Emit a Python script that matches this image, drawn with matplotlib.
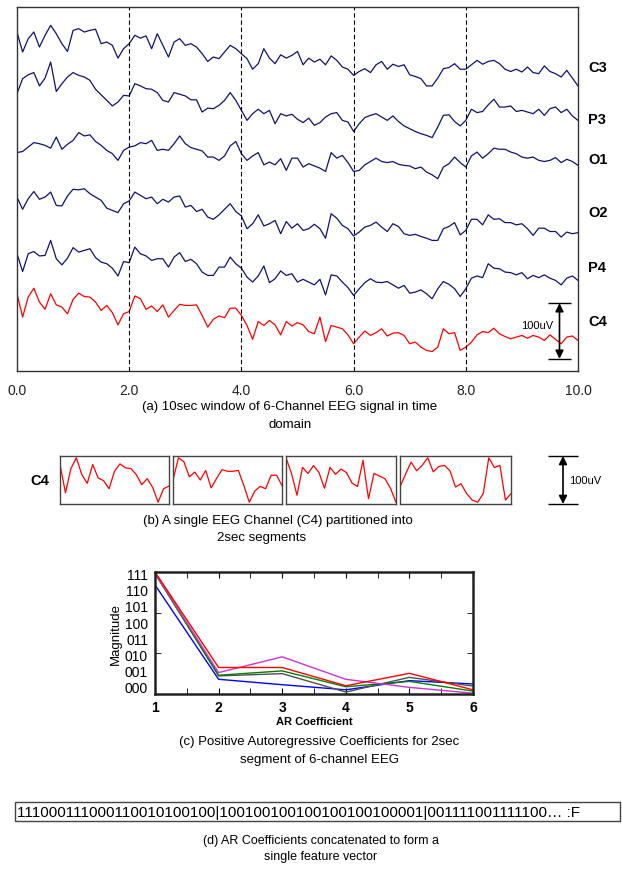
import numpy as np
import matplotlib.pyplot as plt
from matplotlib.patches import Rectangle

plt.rcParams['font.family'] = ['Liberation Sans', 'DejaVu Sans']

# 6-channel EEG, 10 s window sampled every 0.1 s, values in uV
t = np.linspace(0.0, 10.0, 101)
c3 = [42, 6, 30, 42, 15, 36, 54, 39, 21, 7,
      45, 48, 42, 45, 47, 21, 24, 18, -5, 12,
      21, 36, 31, 35, 12, 39, 18, -3, 24, 30,
      18, 21, 15, 3, -11, -3, -6, 6, 18, 12,
      3, -6, -25, -15, 12, -5, -15, 1, -5, 0,
      7, -17, -5, -12, -7, -17, -1, -9, -21, -25,
      -36, -29, -24, -31, -17, -11, -25, -16, -20, -17,
      -35, -38, -42, -55, -55, -41, -24, -22, -15, -25,
      -25, -17, -9, -16, -11, -9, -15, -25, -29, -25,
      -30, -21, -31, -33, -19, -29, -33, -39, -27, -41,
      -55]
p3 = [21, 48, 55, 59, 35, 49, 78, 25, 39, 51,
      59, 54, 51, 45, 29, 19, 9, -1, 6, 18,
      17, 39, 35, 30, 29, 23, 9, 6, 23, 20,
      17, 10, 10, -12, -5, -6, 0, 9, 23, 9,
      -9, -27, -15, -7, -15, -9, -33, -15, -19, -16,
      -25, -31, -23, -36, -31, -21, -15, -13, -27, -30,
      -47, -33, -22, -18, -15, -21, -27, -19, -29, -37,
      -42, -47, -51, -54, -58, -39, -18, -17, -29, -37,
      -27, -7, -13, -11, 1, 11, -3, -3, -1, -11,
      -9, -12, -15, -7, -18, -6, -3, -13, -7, -19,
      -27]
o1 = [5, 7, 15, 23, 21, 18, 13, 33, 11, 20,
      27, 41, 35, 37, 25, 18, 9, 3, -9, 9,
      15, 17, 23, 21, 27, 9, 11, 9, 21, 35,
      21, 14, 11, 8, -3, -3, -9, -1, 17, 25,
      3, -9, -1, 5, -17, -12, -17, -6, -27, -5,
      -5, -21, -15, -19, -23, -29, 5, -5, 0, -13,
      -29, -27, -17, -11, -5, -11, -13, -11, -16, -18,
      -19, -24, -21, -30, -35, -42, -21, -15, -3, -13,
      -21, -1, 6, -5, 3, 13, 11, 11, 6, 3,
      -3, -5, -3, -9, -11, -9, -4, -13, -7, -11,
      -18]
o2 = [39, 17, 36, 49, 35, 39, 48, 24, 23, 41,
      53, 52, 54, 45, 39, 33, 19, 15, 11, 27,
      32, 48, 42, 36, 39, 27, 35, 30, 39, 41,
      21, 24, 13, 17, 3, -1, 7, 17, 27, 13,
      5, -18, -9, 7, -13, -9, -3, -27, -5, -17,
      -9, -21, -18, -10, -18, -35, 9, 1, -12, -18,
      -31, -24, -15, -12, -6, -15, -23, -9, -14, -27,
      -30, -28, -32, -35, -39, -39, -18, -14, -7, -29,
      -21, -1, -1, -11, 7, -1, 0, -7, -7, -11,
      -9, -18, -30, -17, -17, -23, -23, -33, -24, -27,
      -25]
p4 = [33, 1, 33, 37, 29, 30, 57, 24, 13, 25,
      44, 36, 39, 42, 26, 18, 15, 7, -7, 19,
      17, 45, 33, 29, 21, 24, 24, 9, 27, 35,
      19, 23, 15, 0, -6, -6, 9, 9, 27, 15,
      7, -9, -18, -7, 11, -19, -12, 2, -6, -3,
      -18, -13, -18, -23, -13, -41, -5, -7, -18, -28,
      -42, -30, -19, -12, -18, -19, -17, -23, -29, -24,
      -38, -36, -32, -39, -48, -30, -17, -22, -30, -44,
      -30, -11, -7, -10, 15, 7, 6, 0, -1, -5,
      -1, -12, -6, -10, -5, -11, -15, -23, -11, -7,
      -15]
c4 = [51, 9, 45, 61, 36, 23, 51, 31, 27, 15,
      41, 52, 46, 45, 36, 21, 30, 17, -5, 15,
      19, 47, 42, 23, 29, 19, 31, 9, 21, 32,
      30, 30, 31, 12, -9, 5, 11, 8, 25, 25,
      12, -6, -31, 1, -6, 3, -5, -23, 1, -7,
      -1, -5, -17, -21, 9, -35, -6, -9, -12, -23,
      -39, -27, -16, -24, -19, -12, -25, -20, -19, -24,
      -39, -36, -45, -51, -53, -45, -12, -21, -19, -51,
      -45, -36, -23, -17, -19, -11, -21, -26, -30, -27,
      -24, -29, -24, -27, -33, -23, -31, -39, -27, -25,
      -33]

channels = ['C3', 'P3', 'O1', 'O2', 'P4', 'C4']
signals = [c3, p3, o1, o2, p4, c4]
offsets = [568, 478, 388, 274, 178, 88]
colors = ['#12126e'] * 5 + ['#ff0000']

# AR coefficient magnitudes for one 2 s segment, one line per channel
ar_index = [1, 2, 3, 4, 5, 6]
ar_blue = [6.3, 0.46, 0.125, -0.19, 0.375, 0.17]
ar_gray = [7.06, 0.67, 0.81, -0.33, 0.58, 0.04]
ar_green = [7.0, 0.71, 0.98, 0.0, 0.33, -0.27]
ar_magenta = [7.05, 0.875, 1.85, 0.46, -0.04, -0.4]
ar_red = [7.1, 1.19, 1.19, 0.06, 0.83, -0.19]
bit_labels = ['000', '001', '010', '011', '100', '101', '110', '111']

feature_text = ('111000111000110010100100|100100100100100100100001|'
                '001111001111100\u2026 :F')

W, H = 622, 878
fig = plt.figure(figsize=(W / 100, H / 100), dpi=100)


def rect(x0, y0, x1, y1):
    # pixel box (top-left origin) -> figure fraction
    return [x0 / W, 1 - y1 / H, (x1 - x0) / W, (y1 - y0) / H]


def ftext(x, y, s, **kw):
    fig.text(x / W, 1 - y / H, s, **kw)


# ---- (a) stacked EEG traces ----
ax = fig.add_axes(rect(17, 8, 578, 372))
for sig, off, col in zip(signals, offsets, colors):
    ax.plot(t, off + np.asarray(sig), color=col, lw=0.9)
for xv in [2, 4, 6, 8]:
    ax.axvline(xv, color='k', lw=0.8, ls=(0, (4, 2.5)))
ax.set_xlim(0, 10)
ax.set_ylim(0, 655)
ax.set_yticks([])
ax.set_xticks([0, 2, 4, 6, 8, 10])
ax.set_xticklabels(['0.0', '2.0', '4.0', '6.0', '8.0', '10.0'], fontsize=10, color='#222')
ax.tick_params(axis='x', length=0, pad=9)
for sp in ax.spines.values():
    sp.set_color('#333')
    sp.set_linewidth(1.0)

# 100 uV scale bar
bx, by0 = 9.67, 22
ax.annotate('', xy=(bx, by0), xytext=(bx, by0 + 100),
            arrowprops=dict(arrowstyle='<|-|>', color='k', lw=1.2, mutation_scale=12,
                            shrinkA=0, shrinkB=0))
ax.hlines([by0, by0 + 100], bx - 0.2, bx + 0.2, color='k', lw=1.0)
ax.text(bx - 0.12, by0 + 61, '100uV', fontsize=8, ha='right', va='center')

for name, yy in zip(channels, [68, 120, 160, 213, 268, 322]):
    ftext(588, yy, name, fontsize=10.5, fontweight='bold', va='center')

ftext(290, 407, '(a) 10sec window of 6-Channel EEG signal in time', fontsize=9.5,
      ha='center', va='center')
ftext(290, 425, 'domain', fontsize=9.5, ha='center', va='center')

# ---- (b) C4 split into 2 s segments ----
c4_arr = np.asarray(c4)
seg_boxes = [(60, 169), (173, 282), (286, 396), (400, 511)]
for i, (x0, x1) in enumerate(seg_boxes):
    sl = slice(i * 20, i * 20 + 21)
    bax = fig.add_axes(rect(x0, 457, x1, 505))
    seg = c4_arr[sl]
    bax.plot(t[sl], seg, color='#ff0000', lw=0.9)
    pad = 0.04 * (seg.max() - seg.min())
    bax.set_xlim(t[sl][0], t[sl][-1])
    bax.set_ylim(seg.min() - pad, seg.max() + pad)
    bax.set_xticks([])
    bax.set_yticks([])
    for sp in bax.spines.values():
        sp.set_color('#444')
        sp.set_linewidth(1.0)

sax = fig.add_axes(rect(540, 457, 590, 505))
sax.set_xlim(0, 1)
sax.set_ylim(0, 100)
sax.axis('off')
sax.annotate('', xy=(0.46, 0), xytext=(0.46, 100),
             arrowprops=dict(arrowstyle='<|-|>', color='k', lw=1.2, mutation_scale=12,
                             shrinkA=0, shrinkB=0))
sax.hlines([0, 100], 0.16, 0.76, color='k', lw=1.0, clip_on=False)
sax.text(0.58, 50, '100uV', fontsize=8, ha='left', va='center', clip_on=False)

ftext(40, 481, 'C4', fontsize=10.5, fontweight='bold', ha='center', va='center')
ftext(278, 521, '(b) A single EEG Channel (C4) partitioned into', fontsize=9.5,
      ha='center', va='center')
ftext(262, 538, '2sec segments', fontsize=9.5, ha='center', va='center')

# ---- (c) AR coefficients ----
cax = fig.add_axes(rect(155, 573, 473, 695))
for vals, col in [(ar_blue, '#0000ff'), (ar_gray, '#505050'), (ar_green, '#008000'),
                  (ar_magenta, '#cc33cc'), (ar_red, '#ff0000')]:
    cax.plot(ar_index, vals, color=col, lw=1.0)
cax.set_xlim(1, 6)
cax.set_ylim(-0.45, 7.1)
cax.set_xticks(ar_index)
cax.set_xticklabels([str(i) for i in ar_index], fontsize=10, fontweight='bold')
cax.set_xticks(np.arange(1.5, 6, 1.0), minor=True)
lo, hi = cax.get_ylim()
cax.set_yticks([lo + (hi - lo) / 3, lo + 2 * (hi - lo) / 3], minor=True)
cax.set_yticks(range(8))
cax.set_yticklabels(bit_labels, fontsize=10)
cax.tick_params(axis='y', which='major', length=0, pad=5)
cax.tick_params(axis='y', which='minor', direction='in', length=4, left=True, right=True)
cax.tick_params(axis='x', which='both', direction='in', length=4, top=True, pad=4)
cax.set_xlabel('AR Coefficient', fontsize=8, fontweight='bold', labelpad=2)
cax.set_ylabel('Magnitude', fontsize=9.5, labelpad=2)
for sp in cax.spines.values():
    sp.set_color('#222')
    sp.set_linewidth(1.8)

ftext(319, 742, '(c) Positive Autoregressive Coefficients for 2sec', fontsize=9.5,
      ha='center', va='center')
ftext(319, 760, 'segment of 6-channel EEG', fontsize=9.5, ha='center', va='center')

# ---- (d) concatenated feature vector ----
fig.add_artist(Rectangle((15 / W, 1 - 822 / H), 605 / W, 19 / H, transform=fig.transFigure,
                         fill=False, edgecolor='#444', lw=1.0))
ftext(17, 813, feature_text, fontsize=11, ha='left', va='center')
ftext(321, 841, '(d) AR Coefficients concatenated to form a', fontsize=9,
      ha='center', va='center')
ftext(321, 857, 'single feature vector', fontsize=9, ha='center', va='center')

fig.savefig('out.png', dpi=100)
